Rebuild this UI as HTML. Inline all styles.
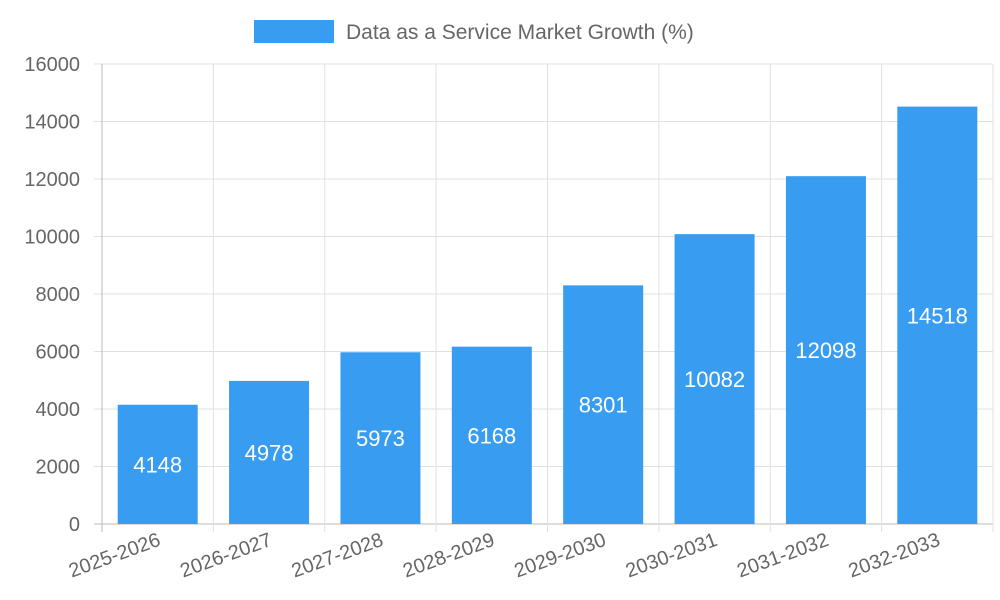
<!DOCTYPE html>
<html><head><meta charset="utf-8"><style>
html,body{margin:0;padding:0;background:#fff;}
svg{display:block;font-family:"Liberation Sans",sans-serif;}
</style></head><body>
<svg id="chart" width="1000" height="600" xmlns="http://www.w3.org/2000/svg">
<g id="legend">
<rect x="254" y="20" width="80" height="23" fill="#389cf0"/>
<text x="346" y="39" font-size="21" fill="#666">Data as a Service Market Growth (%)</text>
</g>
<g id="grid"></g><g id="bars"></g><g id="axes"></g>
</svg>
<script>
const categories=["2025-2026","2026-2027","2027-2028","2028-2029","2029-2030","2030-2031","2031-2032","2032-2033"];
const values=[4148,4978,5973,6168,8301,10082,12098,14518];
const yTicks=[0,2000,4000,6000,8000,10000,12000,14000,16000];
const X0=102,X1=993,Y0=524,Y1=64,YMAX=16000;
const bw=(X1-X0)/categories.length;
const xs=i=>X0+bw*i;
const ys=v=>Y0-(v/YMAX)*(Y0-Y1);
const NS="http://www.w3.org/2000/svg";
function mk(parent,tag,attrs,text){const e=document.createElementNS(NS,tag);for(const k in attrs)e.setAttribute(k,attrs[k]);if(text!==undefined)e.textContent=text;parent.appendChild(e);return e;}
const grid=document.getElementById('grid'),bars=document.getElementById('bars'),axes=document.getElementById('axes');
yTicks.forEach(t=>{
  const y=ys(t);
  const l=mk(grid,'line',{x1:X0-8,x2:X1,y1:y,y2:y,stroke:t===0?'#bbb':'#e0e0e0','stroke-width':1});
  
  
  const tx=mk(axes,'text',{x:X0-22,y:y+7,'text-anchor':'end','font-size':20,fill:'#666'},t);
  
  
});
for(let i=0;i<=categories.length;i++){
  const x=xs(i);
  const l=mk(grid,'line',{x1:x,x2:x,y1:Y1,y2:Y0+8,stroke:i===0?'#bbb':'#e0e0e0','stroke-width':1});
  
  
}
categories.forEach((c,i)=>{
  const cx=xs(i)+bw/2,v=values[i],top=ys(v);
  const r=mk(bars,'rect',{x:cx-40,y:top,width:80,height:Y0-top,fill:'#389cf0'});
  
  
  const vt=mk(bars,'text',{x:cx,y:(top+Y0)/2+8,'text-anchor':'middle','font-size':22,fill:'#fff'},v);
  
  
  const xl=mk(axes,'text',{x:cx+4,y:545,'text-anchor':'end','font-size':20,fill:'#666',transform:`rotate(-20 ${cx+4} 545)`},c);
  
  
});
</script>
</body></html>
